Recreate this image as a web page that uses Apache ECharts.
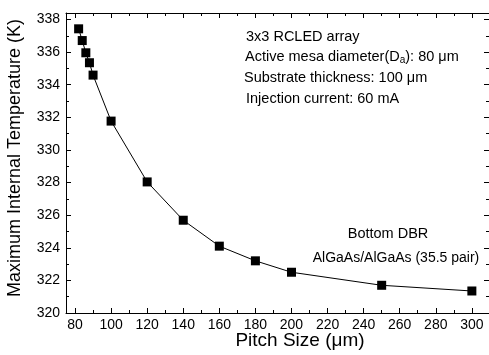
<!DOCTYPE html>
<html><head><meta charset="utf-8">
<script src="https://cdn.jsdelivr.net/npm/echarts@6/dist/echarts.min.js"></script>
<style>html,body{margin:0;padding:0;background:#fff}#c{width:489px;height:355px}</style>
</head><body><div id="c"></div>
<script>
const pitchSizes = [82, 84, 86, 88, 90, 100, 120, 140, 160, 180, 200, 250, 300];
const maxTemps = [337.43, 336.71, 335.96, 335.35, 334.59, 331.77, 328.04, 325.69, 324.1, 323.2, 322.5, 321.7, 321.35];
const xMajorTicks = [80, 100, 120, 140, 160, 180, 200, 220, 240, 260, 280, 300];
const xMinorTicks = [90, 110, 130, 150, 170, 190, 210, 230, 250, 270, 290];
const yMajorTicks = [320, 322, 324, 326, 328, 330, 332, 334, 336, 338];
const yMinorTicks = [321, 323, 325, 327, 329, 331, 333, 335, 337];
const xTitle = 'Pitch Size (μm)';
const yTitle = 'Maximum Internal Temperature (K)';
const noteLines = ['3x3 RCLED array', 'Active mesa diameter(D', 'a', '): 80 μm', 'Substrate thickness: 100 μm', 'Injection current: 60 mA'];
const dbrLines = ['Bottom DBR', 'AlGaAs/AlGaAs (35.5 pair)'];

const FONT = 'Liberation Sans, Arial, sans-serif';
const xMin = 75, xMax = 309.5, yMin = 320, yMax = 338.4;

function mkX(pos, vals, len, labels, line) {
  return {
    type: 'value', position: pos, min: xMin, max: xMax,
    axisLine: {show: line, onZero: false, lineStyle: {color: '#000', width: 1}},
    axisTick: {show: true, inside: true, length: len, customValues: vals, lineStyle: {color: '#000', width: 1}},
    axisLabel: {show: labels, customValues: vals, color: '#000', fontSize: 14, fontFamily: FONT, margin: 5},
    splitLine: {show: false}
  };
}
function mkY(pos, vals, len, labels, line) {
  return {
    type: 'value', position: pos, min: yMin, max: yMax,
    axisLine: {show: line, onZero: false, lineStyle: {color: '#000', width: 1}},
    axisTick: {show: true, inside: true, length: len, customValues: vals, lineStyle: {color: '#000', width: 1}},
    axisLabel: {show: labels, customValues: vals, color: '#000', fontSize: 14, fontFamily: FONT, margin: 6},
    splitLine: {show: false}
  };
}

const NOTE = '14.5px ' + FONT;
const chart = echarts.init(document.getElementById('c'), null, {renderer: 'canvas'});
chart.setOption({
  animation: false,
  backgroundColor: '#fff',
  grid: {left: 66, right: 0, top: 13, bottom: 42, containLabel: false},
  xAxis: [
    mkX('bottom', xMajorTicks, 5, true, true),
    mkX('bottom', xMinorTicks, 3, false, false),
    mkX('top', xMajorTicks, 5, false, true),
    mkX('top', xMinorTicks, 3, false, false)
  ],
  yAxis: [
    mkY('left', yMajorTicks, 5, true, true),
    mkY('left', yMinorTicks, 3, false, false),
    mkY('right', yMajorTicks, 5, false, true),
    mkY('right', yMinorTicks, 3, false, false)
  ],
  series: [{
    type: 'line', xAxisIndex: 0, yAxisIndex: 0,
    data: pitchSizes.map((p, i) => [p, maxTemps[i]]),
    symbol: 'rect', symbolSize: 9,
    lineStyle: {color: '#000', width: 1},
    itemStyle: {color: '#000'}
  }],
  graphic: [
    {type: 'text', x: 300, y: 341, style: {text: xTitle, font: '19px ' + FONT, fill: '#000', textAlign: 'center', textVerticalAlign: 'middle'}},
    {type: 'text', x: 15, y: 158, rotation: Math.PI / 2, style: {text: yTitle, font: '18px ' + FONT, fill: '#000', textAlign: 'center', textVerticalAlign: 'middle'}},
    {type: 'text', x: 246, y: 37, style: {text: noteLines[0], font: NOTE, fill: '#000', textVerticalAlign: 'middle'}},
    {type: 'text', x: 245, y: 57, style: {
      text: '{n|' + noteLines[1] + '}{s|' + noteLines[2] + '}{n|' + noteLines[3] + '}',
      textVerticalAlign: 'middle',
      rich: {
        n: {font: NOTE, fill: '#000', color: '#000', lineHeight: 16},
        s: {font: '10px ' + FONT, fill: '#000', color: '#000', lineHeight: 16, verticalAlign: 'bottom', padding: [6, 0, 0, 0]}
      }
    }},
    {type: 'text', x: 244, y: 78, style: {text: noteLines[4], font: NOTE, fill: '#000', textVerticalAlign: 'middle'}},
    {type: 'text', x: 246, y: 99, style: {text: noteLines[5], font: NOTE, fill: '#000', textVerticalAlign: 'middle'}},
    {type: 'text', x: 388, y: 234, style: {text: dbrLines[0], font: '14.5px ' + FONT, fill: '#000', textAlign: 'center', textVerticalAlign: 'middle'}},
    {type: 'text', x: 396, y: 258, style: {text: dbrLines[1], font: '14px ' + FONT, fill: '#000', textAlign: 'center', textVerticalAlign: 'middle'}}
  ]
});
</script></body></html>
